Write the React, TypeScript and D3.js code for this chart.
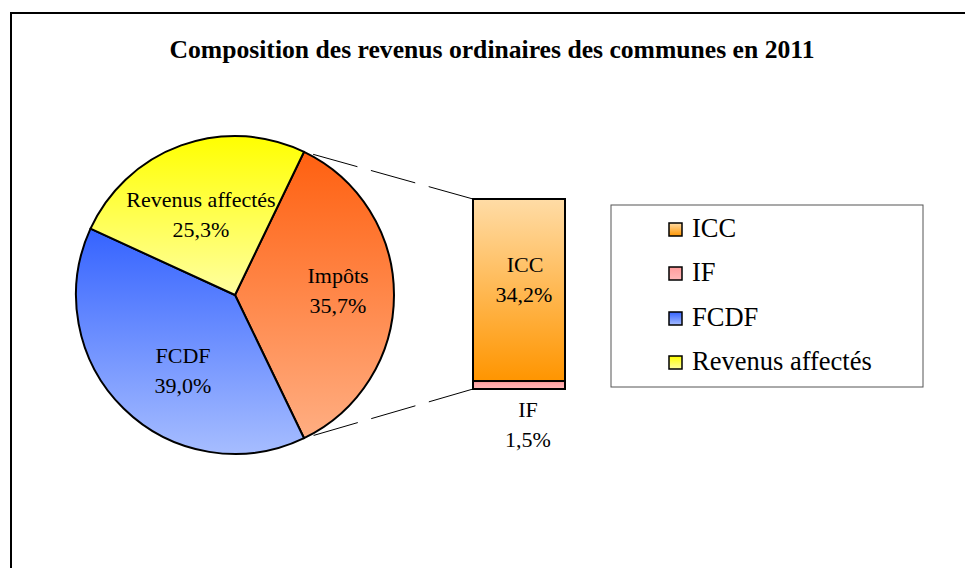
import React from "react";
import * as d3 from "d3";

const title = "Composition des revenus ordinaires des communes en 2011";
const pieLabels = ["Impôts", "FCDF", "Revenus affectés"];
const pieValues = [35.7, 39.0, 25.3];
const pieValueTexts = ["35,7%", "39,0%", "25,3%"];
const barLabels = ["IF", "ICC"];
const barValues = [1.5, 34.2];
const barValueTexts = ["1,5%", "34,2%"];
const legendLabels = ["ICC", "IF", "FCDF", "Revenus affectés"];

const W = 965;
const H = 568;
const cx = 235;
const cy = 295;
const R = 159;
const FONT = "Liberation Serif, Times New Roman, serif";

const grads: Record<string, [string, string]> = {
  "Impôts": ["#FF6010", "#FFAE82"],
  "FCDF": ["#3563FF", "#A6BDFF"],
  "Revenus affectés": ["#FFFF00", "#FFFFA0"],
  "ICC": ["#FFDCA6", "#FF9500"],
  "IF": ["#FF9C9C", "#FFB8B8"],
};
const gid = (k: string) => "g" + k.replace(/[^A-Za-z]/g, "");

export default function App() {
  const total = d3.sum(pieValues);
  const impFrac = pieValues[0] / total;
  const start = Math.PI / 2 - Math.PI * impFrac;
  const pie = d3
    .pie<number>()
    .sort(null)
    .startAngle(start)
    .endAngle(start + 2 * Math.PI)
    .value((d) => d);
  const arcs = pie(pieValues);
  const arc = d3.arc<d3.PieArcDatum<number>>().innerRadius(0).outerRadius(R);
  const labelPos = [
    [338, 283],
    [183, 363],
    [201, 207],
  ];

  const barX0 = 473;
  const barX1 = 565;
  const y = d3.scaleLinear().domain([0, d3.sum(barValues)]).range([389, 199]);
  let acc = 0;
  const bars = barValues.map((v, i) => {
    const b = { label: barLabels[i], y0: y(acc), y1: y(acc + v), txt: barValueTexts[i] };
    acc += v;
    return b;
  });

  const pt = (a: number) => [cx + R * Math.sin(a), cy - R * Math.cos(a)];
  const pTop = pt(arcs[0].startAngle);
  const pBot = pt(arcs[0].endAngle);

  const legendRows = [237, 281, 326, 370];

  return (
    <svg
      width={W}
      height={H}
      style={{ position: "absolute", left: 0, top: 0, background: "#fff" }}
      fontFamily={FONT}
    >
      <defs>
        {Object.entries(grads).map(([k, [c0, c1]]) => (
          <linearGradient key={k} id={gid(k)} x1="0" y1="0" x2="0" y2="1">
            <stop offset="0" stopColor={c0} />
            <stop offset="1" stopColor={c1} />
          </linearGradient>
        ))}
      </defs>
      <rect x={11} y={13} width={1000} height={1000} fill="#fff" stroke="#000" strokeWidth={2} />
      <text x={492} y={58} textAnchor="middle" fontSize={25} fontWeight="bold" textLength={645} lengthAdjust="spacingAndGlyphs">
        {title}
      </text>

      <g transform={`translate(${cx},${cy})`}>
        {arcs.map((a, i) => (
          <path key={i} d={arc(a) || ""} fill={`url(#${gid(pieLabels[i])})`} stroke="#000" strokeWidth={2} strokeLinejoin="round" />
        ))}
      </g>
      {pieLabels.map((l, i) => (
        <g key={l} fontSize={22} textAnchor="middle" fill="#000">
          <text x={labelPos[i][0]} y={labelPos[i][1]}>{l}</text>
          <text x={labelPos[i][0]} y={labelPos[i][1] + 30}>{pieValueTexts[i]}</text>
        </g>
      ))}

      <line x1={barX0} y1={y(d3.sum(barValues))} x2={pTop[0]} y2={pTop[1]} stroke="#000" strokeWidth={1} strokeDasharray="46,14" />
      <line x1={barX0} y1={y(0)} x2={pBot[0]} y2={pBot[1]} stroke="#000" strokeWidth={1} strokeDasharray="46,14" />

      {bars.map((b) => (
        <rect key={b.label} x={barX0} y={b.y1} width={barX1 - barX0} height={b.y0 - b.y1} fill={`url(#${gid(b.label)})`} stroke="#000" strokeWidth={2} />
      ))}
      <g fontSize={22} textAnchor="middle">
        <text x={525} y={272}>ICC</text>
        <text x={524} y={302}>{bars[1].txt}</text>
        <text x={528} y={417}>IF</text>
        <text x={528} y={447}>{bars[0].txt}</text>
      </g>

      <rect x={611} y={205} width={312} height={182} fill="#fff" stroke="#555" strokeWidth={1} />
      {legendLabels.map((l, i) => (
        <g key={l}>
          <rect x={669} y={legendRows[i] - 14} width={13} height={13} fill={`url(#${gid(l)})`} stroke="#000" strokeWidth={1.5} />
          <text x={692} y={legendRows[i]} fontSize={26.5}>{l}</text>
        </g>
      ))}
    </svg>
  );
}
